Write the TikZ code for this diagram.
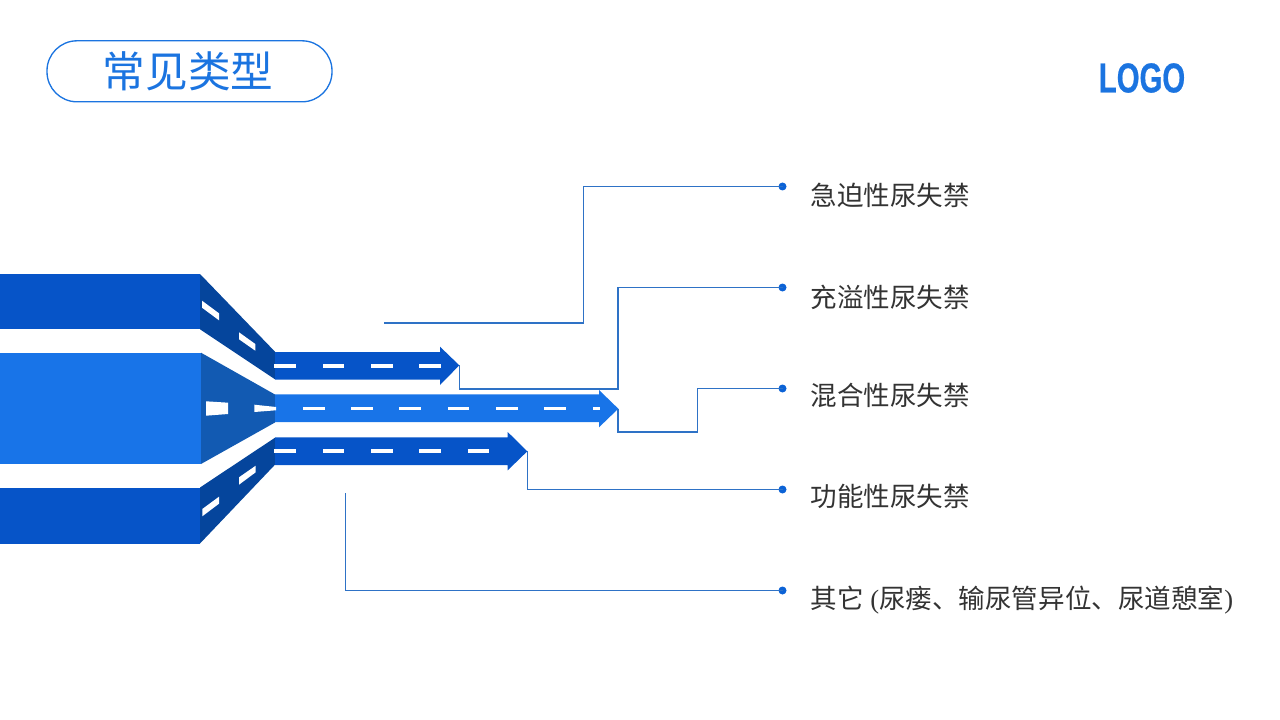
\documentclass[tikz,border=0pt]{standalone}
\usepackage{fontspec}
\setmainfont{Liberation Serif}
\newfontfamily\cjkfont{Noto Sans CJK SC}
\newfontfamily\logofont[FakeBold=0.6]{Liberation Sans}
\definecolor{blockdark}{HTML}{0654C8}
\definecolor{blockmid}{HTML}{1874E8}
\definecolor{slopedark}{HTML}{05459C}
\definecolor{slopemid}{HTML}{125AB2}
\definecolor{wire}{HTML}{2E72C6}
\definecolor{dotblue}{HTML}{0B62D6}
\definecolor{labeltext}{HTML}{333333}
\definecolor{titleblue}{HTML}{1B74E0}
\tikzset{
  wireline/.style={draw=wire,line width=0.85pt},
  enddot/.style={circle,fill=dotblue,inner sep=0pt,minimum size=6pt},
  itemlabel/.style={anchor=west,inner sep=0pt,text=labeltext,font=\fontsize{19.9pt}{24pt}\selectfont\cjkfont},
  roadmark/.style={fill=white},
}
\newcommand{\dashrow}[3]{\foreach \a in {#3}{\fill[white] (\a,#1-1.8) rectangle (\a+#2,#1+1.8);}}
\begin{document}
\begin{tikzpicture}[x=0.75pt,y=-0.75pt]
\useasboundingbox (0,0) rectangle (1280,720);
% title
\node[draw=titleblue,line width=1pt,rounded corners=22.5pt,minimum width=213.75pt,minimum height=45.75pt,inner sep=0pt] (title) at (189.5,71.3) {};
\node[text=titleblue,inner sep=0pt,font=\fontsize{32pt}{36pt}\selectfont\cjkfont] (titletext) at (188,71.3) {常见类型};
\node[text=titleblue,inner sep=0pt,font=\fontsize{31.4pt}{36pt}\selectfont\logofont\bfseries,xscale=0.7] (logo) at (1142,78) {LOGO};
% blocks
\fill[blockdark] (0,273.7) rectangle (200,329.3);
\fill[blockmid] (0,352.7) rectangle (201,464);
\fill[blockdark] (0,487.5) rectangle (200,543.5);
% slopes
\fill[slopedark] (200,274) -- (275,351.7) -- (275,379.3) -- (200,329.3) -- cycle;
\fill[slopemid] (201,352.7) -- (275,394.5) -- (275,422.5) -- (201,464) -- cycle;
\fill[slopedark] (200,487.5) -- (275,437.7) -- (275,464.7) -- (200,543.5) -- cycle;
% arrows
\fill[blockdark] (275,352) -- (440,352) -- (440,346.7) -- (459.3,365.3) -- (440,385) -- (440,379.5) -- (275,379.5) -- cycle;
\fill[blockmid] (275,394.3) -- (599,394.3) -- (599,390) -- (618.3,408.7) -- (599,427.3) -- (599,422) -- (275,422) -- cycle;
\fill[blockdark] (275,437.3) -- (507.7,437.3) -- (507.7,432) -- (527.3,451.3) -- (507.7,470.3) -- (507.7,465) -- (275,465) -- cycle;
% road marks on slopes
\fill[roadmark] (202,300.7) -- (219,313.3) -- (219,320.3) -- (202,307.7) -- cycle;
\fill[roadmark] (239,332.3) -- (255.3,344) -- (255.3,350.7) -- (239,339.3) -- cycle;
\fill[roadmark] (206,401.3) -- (228,402.7) -- (228,414) -- (206,415.7) -- cycle;
\fill[roadmark] (254.3,404.7) -- (276,407) -- (276,410.3) -- (254.3,412) -- cycle;
\fill[roadmark] (202.3,509) -- (219,496.7) -- (219,503.7) -- (202.3,516.3) -- cycle;
\fill[roadmark] (239,477.3) -- (255.7,465.7) -- (255.7,472.3) -- (239,484.7) -- cycle;
% road marks on arrows
\dashrow{365.7}{21.7}{274,322.7,371,419.3}
\dashrow{408.3}{21.7}{303,351,399.3,447.7,496,544.3}
\fill[white] (592.7,406.5) rectangle (599.7,410.1);
\dashrow{451}{21.7}{274,322.7,371,419.3,467.7}
% anchors
\coordinate (tipA) at (459.5,365.3);
\coordinate (tipB) at (618,408.7);
\coordinate (tipC) at (527.2,451.3);
\coordinate (startU) at (384,323);
\coordinate (startO) at (345.5,493);
% dots
\node[enddot] (d1) at (782.5,186.5) {};
\node[enddot] (d2) at (782.5,287.5) {};
\node[enddot] (d3) at (782.5,388.5) {};
\node[enddot] (d4) at (782.5,489.5) {};
\node[enddot] (d5) at (782.5,590.5) {};
% connectors
\draw[wireline] (startU) -- (583.5,323) -- (583.5,186.5) -- (d1.center);
\draw[wireline] (tipA) -- (459.5,389) -- (618,389) -- (618,287.5) -- (d2.center);
\draw[wireline] (tipB) -- (618,432) -- (697.5,432) -- (697.5,388.5) -- (d3.center);
\draw[wireline] (tipC) -- (527.2,489.5) -- (d4.center);
\draw[wireline] (startO) -- (345.5,590.5) -- (d5.center);
% labels
\node[itemlabel] (l1) at (810.5,195) {急迫性尿失禁};
\node[itemlabel] (l2) at (810.5,297) {充溢性尿失禁};
\node[itemlabel] (l3) at (810.5,395) {混合性尿失禁};
\node[itemlabel] (l4) at (810.5,496) {功能性尿失禁};
\node[itemlabel] (l5) at (810.5,600) {其它{\rmfamily\ (}尿瘘、输尿管异位、尿道憩室{\rmfamily)}};
\end{tikzpicture}
\end{document}
